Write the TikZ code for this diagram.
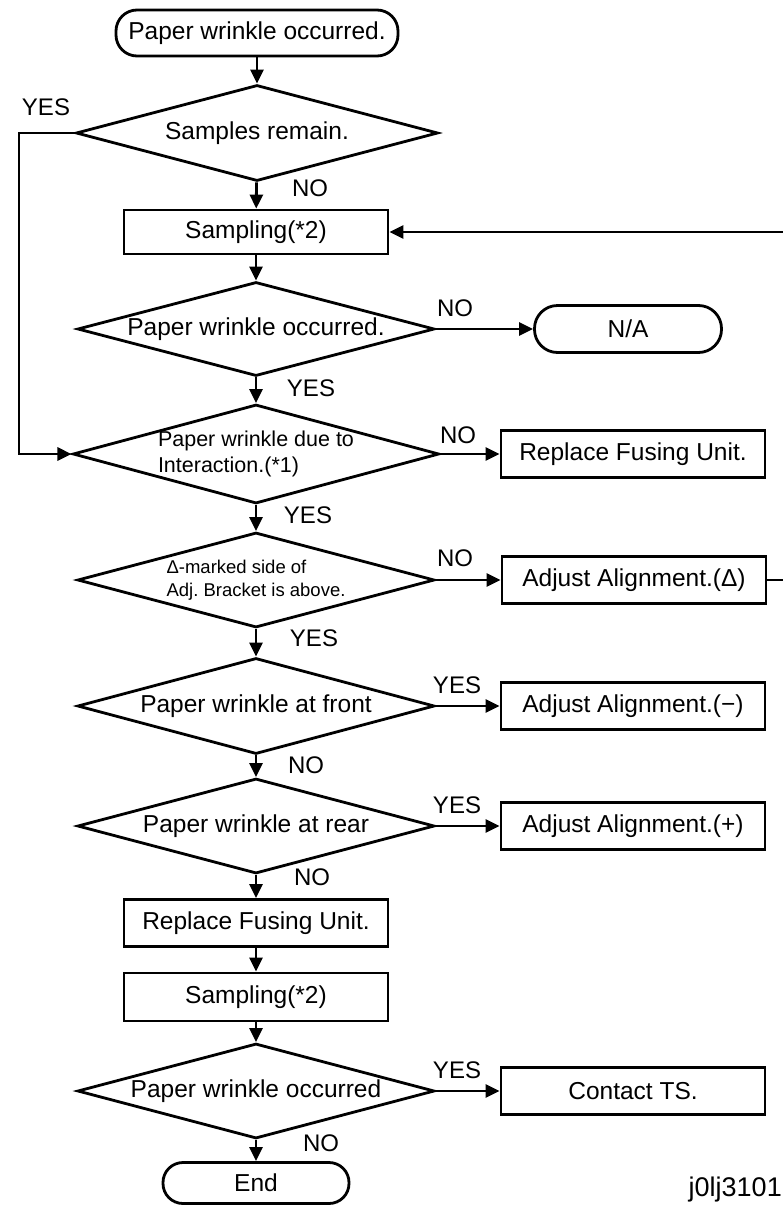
\documentclass[tikz,border=0pt]{standalone}
\usepackage{fontspec}
\setmainfont{Liberation Sans}
\usetikzlibrary{shapes.geometric,arrows.meta}
\tikzset{
  dec/.style={diamond, draw, line width=2.8pt, aspect=3.7, minimum width=357pt, minimum height=96pt, inner sep=0pt, font=\fontsize{24.5}{28}\selectfont},
  prc/.style={rectangle, draw, line width=2.8pt, minimum width=264pt, minimum height=47pt, inner sep=0pt, font=\fontsize{24.5}{28}\selectfont},
  trm/.style={rectangle, draw, rounded corners=21pt, line width=2.8pt, minimum height=46pt, inner sep=0pt, font=\fontsize{24.5}{28}\selectfont},
  lbl/.style={inner sep=0pt, font=\fontsize{24}{28}\selectfont},
  arr/.style={line width=2.8pt, -{Triangle[length=14pt,width=13pt]}}
}
\frenchspacing
\begin{document}
\begin{tikzpicture}[x=1pt,y=-1pt]
\useasboundingbox (0,0) rectangle (782,1205);
% main column
\node[trm, minimum width=282pt] (trm0) at (257,33){Paper wrinkle occurred.};
\node[dec, minimum width=362pt] (dec1) at (257,133){Samples remain.};
\node[prc, minimum height=44pt] (smp1) at (256,232){Sampling(*2)};
\node[dec, minimum height=94pt] (dec2) at (256,329){Paper wrinkle occurred.};
\node[dec, minimum height=98pt, align=left, font=\fontsize{21.5}{26}\selectfont] (dec3) at (256,454){Paper wrinkle due to\\Interaction.(*1)};
\node[dec, minimum height=95pt, align=left, font=\fontsize{18.5}{23}\selectfont] (dec4) at (256,580){Δ-marked side of\\Adj. Bracket is above.};
\node[dec] (dec5) at (256,706){Paper wrinkle at front};
\node[dec, minimum height=95pt] (dec6) at (256,826){Paper wrinkle at rear};
\node[prc] (rfu2) at (256,923){Replace Fusing Unit.};
\node[prc, minimum height=48pt] (smp2) at (256,997){Sampling(*2)};
\node[dec, minimum height=95pt] (dec7) at (256,1091){Paper wrinkle occurred};
\node[trm, minimum width=186pt, minimum height=41pt, rounded corners=20pt] (trmE) at (256,1183){End};
% right column
\node[trm, minimum width=187pt, minimum height=47pt, rounded corners=23pt] (na) at (628,329){N/A};
\node[prc] (rfu1) at (633,454){Replace Fusing Unit.};
\node[prc] (adjD) at (634,580){Adjust Alignment.(Δ)};
\node[prc] (adjM) at (633,706){Adjust Alignment.(−)};
\node[prc] (adjP) at (633,826){Adjust Alignment.(+)};
\node[prc] (cts) at (633,1091){Contact TS.};
% loop points
\coordinate (yl) at (19,133);
\coordinate (lp) at (792,580);
% connectors
\draw[arr](trm0) -- (dec1);
\draw[arr](dec1) -- (smp1);
\draw[arr](smp1) -- (dec2);
\draw[arr](dec2) -- (dec3);
\draw[arr](dec3) -- (dec4);
\draw[arr](dec4) -- (dec5);
\draw[arr](dec5) -- (dec6);
\draw[arr](dec6) -- (rfu2);
\draw[arr](rfu2) -- (smp2);
\draw[arr](smp2) -- (dec7);
\draw[arr](dec7) -- (trmE);
\draw[arr](dec2) -- (na);
\draw[arr](dec3) -- (rfu1);
\draw[arr](dec4) -- (adjD);
\draw[arr](dec5) -- (adjM);
\draw[arr](dec6) -- (adjP);
\draw[arr](dec7) -- (cts);
\draw[arr](dec1.west) -- (yl) |- (dec3.west);
\draw[arr](adjD.east) -- (lp) |- (smp1.east);
% labels
\node[lbl] (l1) at (46,107){YES};
\node[lbl] (l2) at (310,188){NO};
\node[lbl] (l3) at (455,308){NO};
\node[lbl] (l4) at (311,388){YES};
\node[lbl] (l5) at (458,435){NO};
\node[lbl] (l6) at (308,515){YES};
\node[lbl] (l7) at (455,558){NO};
\node[lbl] (l8) at (314,638){YES};
\node[lbl] (l9) at (457,685){YES};
\node[lbl] (l10) at (306,765){NO};
\node[lbl] (l11) at (457,805){YES};
\node[lbl] (l12) at (312,877){NO};
\node[lbl] (l13) at (457,1070){YES};
\node[lbl] (l14) at (321,1143){NO};
\node[lbl, anchor=east, font=\fontsize{27}{30}\selectfont] (fig) at (782,1190){j0lj3101};
\end{tikzpicture}
\end{document}
